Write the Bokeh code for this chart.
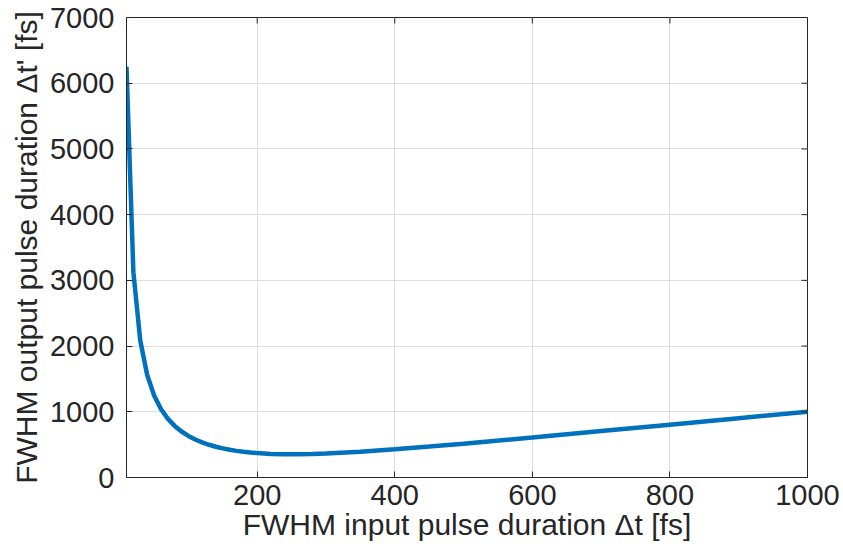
import math
from bokeh.plotting import figure
from bokeh.models import FixedTicker, Range1d
from bokeh.embed import file_html
from bokeh.resources import INLINE

# Input pulse duration (fs) and output pulse duration (fs)
dt_in = [10, 20, 30, 40, 50, 60, 70, 80, 90, 100, 110, 120, 130, 140, 150, 160,
         170, 180, 190, 200, 220, 240, 260, 280, 300, 350, 400, 450, 500, 600,
         700, 800, 900, 1000]
dt_out = [6250, 3125, 2084, 1563, 1251, 1043, 896, 785, 700, 633, 579, 535, 498,
          468, 443, 422, 405, 391, 380, 371, 359, 354, 354, 358, 365, 393, 429,
          471, 515, 609, 706, 804, 903, 1002]
x_ticks = [200, 400, 600, 800, 1000]
y_ticks = [0, 1000, 2000, 3000, 4000, 5000, 6000, 7000]
x_min, x_max = 10, 1000
y_min, y_max = 0, 7000

FONT = "Liberation Sans"
AX = "#262626"

p = figure(width=843, height=551, output_backend="svg", toolbar_location=None,
           x_range=Range1d(x_min, x_max), y_range=Range1d(y_min, y_max),
           min_border_left=126, min_border_right=36, min_border_top=17,
           min_border_bottom=74)
p.background_fill_color = "white"
p.border_fill_color = "white"
p.outline_line_color = AX
p.outline_line_width = 1

p.xgrid.ticker = FixedTicker(ticks=x_ticks)
p.ygrid.ticker = FixedTicker(ticks=y_ticks)
p.grid.grid_line_color = "#dedede"
p.grid.grid_line_width = 1

p.line(dt_in, dt_out, line_color="#0072BD", line_width=4.5)

for ax, ticks in ((p.xaxis[0], x_ticks), (p.yaxis[0], y_ticks)):
    ax.ticker = FixedTicker(ticks=ticks)
    ax.major_tick_in = 6
    ax.major_tick_out = 0
    ax.minor_tick_in = 0
    ax.minor_tick_out = 0
    ax.axis_line_color = AX
    ax.major_tick_line_color = AX
    ax.major_label_text_color = AX
    ax.major_label_text_font = FONT
    ax.major_label_text_font_size = "29px"
    ax.axis_label_text_font = FONT
    ax.axis_label_text_font_size = "30px"
    ax.axis_label_text_font_style = "normal"
    ax.axis_label_text_color = AX

p.xaxis[0].axis_label = "FWHM input pulse duration \u0394t [fs]"
p.yaxis[0].axis_label = "FWHM output pulse duration \u0394t' [fs]"
p.xaxis[0].major_label_standoff = 7
p.yaxis[0].major_label_standoff = 12
p.xaxis[0].axis_label_standoff = 0
p.yaxis[0].axis_label_standoff = 4

# box ticks on top and right edges (inward)
p.ray(x=x_ticks, y=[y_max] * len(x_ticks), length=6, length_units="screen",
      angle=-math.pi / 2, line_color=AX, line_width=1)
p.ray(x=[x_max] * len(y_ticks), y=y_ticks, length=6, length_units="screen",
      angle=math.pi, line_color=AX, line_width=1)

open("out.html", "w").write(file_html(p, INLINE))
